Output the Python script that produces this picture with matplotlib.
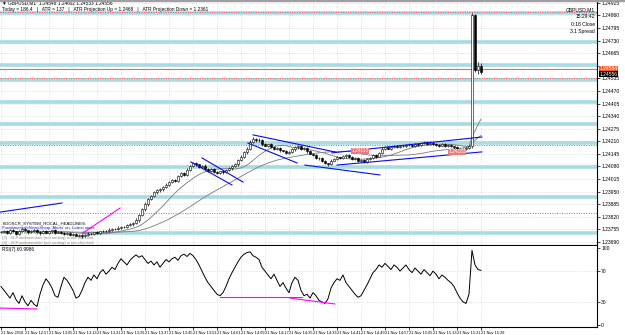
import numpy as np
import pandas as pd
import matplotlib
matplotlib.use("Agg")
import matplotlib.pyplot as plt

plt.rcParams['font.family'] = ['Liberation Sans', 'DejaVu Sans']

# GBPUSD M1 closes, one per minute from 12:49 to 15:29
closes = [
    1.23741, 1.23748, 1.23736, 1.23752, 1.23744, 1.23731, 1.23746, 1.23758, 1.23749, 1.23739,
    1.23745, 1.23753, 1.23741, 1.23734, 1.23747, 1.23738, 1.23744, 1.23750, 1.23737, 1.23742,
    1.23735, 1.23730, 1.23738, 1.23726, 1.23731, 1.23722, 1.23728, 1.23719, 1.23727, 1.23733,
    1.23730, 1.23739, 1.23736, 1.23744, 1.23748, 1.23745, 1.23753, 1.23758, 1.23755, 1.23764,
    1.23769, 1.23766, 1.23777, 1.23781, 1.23790, 1.23803, 1.23829, 1.23858, 1.23886, 1.23912,
    1.23925, 1.23946, 1.23958, 1.23961, 1.23972, 1.23985, 1.23999, 1.24010, 1.24006, 1.24030,
    1.24044, 1.24036, 1.24062, 1.24081, 1.24096, 1.24090, 1.24078, 1.24084, 1.24069, 1.24058,
    1.24066, 1.24052, 1.24047, 1.24055, 1.24049, 1.24062, 1.24070, 1.24081, 1.24090, 1.24113,
    1.24130, 1.24152, 1.24170, 1.24207, 1.24222, 1.24214, 1.24218, 1.24196, 1.24188, 1.24194,
    1.24179, 1.24172, 1.24176, 1.24163, 1.24158, 1.24150, 1.24155, 1.24168, 1.24179, 1.24185,
    1.24170, 1.24174, 1.24158, 1.24146, 1.24138, 1.24121, 1.24125, 1.24108, 1.24096, 1.24090,
    1.24110, 1.24118, 1.24127, 1.24121, 1.24132, 1.24140, 1.24128, 1.24119, 1.24124, 1.24108,
    1.24113, 1.24105, 1.24118, 1.24126, 1.24137, 1.24131, 1.24148, 1.24170, 1.24178, 1.24172,
    1.24181, 1.24186, 1.24179, 1.24188, 1.24184, 1.24193, 1.24190, 1.24186, 1.24196, 1.24192,
    1.24199, 1.24205, 1.24197, 1.24203, 1.24195, 1.24191, 1.24188, 1.24194, 1.24186, 1.24190,
    1.24183, 1.24178, 1.24171, 1.24165, 1.24170, 1.24176, 1.24184, 1.24863, 1.24579, 1.24600,
    1.24570,
]
# wick sizes in points (1e-5)
wick_up = [
    4, 6, 3, 5, 7, 4, 5, 3, 6, 4,  5, 3, 6, 4, 5, 7, 3, 4, 6, 5,
    4, 6, 3, 5, 4, 6, 3, 5, 4, 6,  5, 4, 6, 3, 5, 4, 7, 3, 5, 6,
    4, 5, 3, 6, 5, 8, 6, 7, 9, 6,  5, 7, 4, 6, 5, 8, 6, 4, 7, 5,
    6, 5, 8, 7, 9, 6, 5, 4, 6, 5,  4, 6, 5, 3, 5, 4, 6, 5, 7, 6,
    8, 7, 9, 10, 8, 6, 7, 5, 6, 4, 5, 6, 4, 5, 3, 6, 5, 7, 6, 4,
    5, 6, 4, 5, 3, 6, 4, 5, 3, 4,  6, 5, 7, 4, 6, 5, 4, 6, 3, 5,
    4, 5, 6, 4, 7, 5, 6, 8, 5, 6,  4, 5, 6, 4, 5, 3, 6, 4, 5, 4,
    6, 5, 4, 6, 3, 5, 4, 6, 5, 4,  5, 4, 6, 3, 5, 4, 6, 10, 5, 20,
    15,
]
wick_dn = [
    5, 3, 6, 4, 3, 6, 4, 5, 3, 6,  4, 5, 3, 6, 4, 3, 5, 6, 4, 3,
    5, 4, 6, 3, 5, 4, 6, 9, 5, 4,  3, 6, 4, 5, 3, 4, 6, 5, 4, 3,
    5, 4, 6, 5, 7, 6, 8, 7, 6, 8,  7, 5, 6, 8, 6, 5, 7, 6, 5, 8,
    5, 7, 6, 5, 6, 8, 7, 6, 5, 7,  6, 5, 7, 4, 6, 5, 4, 6, 5, 7,
    6, 5, 7, 6, 8, 7, 6, 8, 5, 6,  4, 5, 6, 7, 5, 6, 4, 5, 6, 7,
    6, 5, 7, 4, 6, 5, 7, 6, 5, 8,  5, 4, 6, 5, 4, 6, 5, 4, 6, 5,
    4, 6, 5, 4, 6, 5, 4, 6, 5, 4,  5, 4, 6, 3, 5, 4, 6, 5, 4, 5,
    4, 5, 6, 4, 5, 3, 6, 5, 4, 5,  4, 6, 5, 4, 6, 5, 4, 9, 11, 21,
    10,
]
rsi_vals = [
    50, 45, 40, 35, 42, 33, 28, 38, 30, 25, 32, 27, 24,
    40, 52, 60, 55, 48, 38, 36, 50, 62, 58, 52, 45, 35, 37,
    45, 55, 62, 58, 65, 60, 68, 72, 66, 70, 75, 72,
    80, 86, 82, 78, 84, 88, 91, 88, 90, 85, 80, 83, 78, 82,
    75, 80, 85, 82, 86, 88, 84, 90, 92, 89, 93, 90, 85, 78,
    70, 62, 55, 50, 45, 40, 38, 42, 50, 60, 68, 75,
    82, 88, 92, 94, 95, 90, 88, 85, 75, 70, 65, 60, 66, 58, 50, 55, 48, 42,
    55, 62, 58, 45, 38, 40, 35, 42, 38, 32, 30, 28, 34,
    48, 55, 60, 58, 65, 55, 50, 45, 40, 36, 38, 45,
    52, 60, 68, 72, 78, 75, 80, 76, 72, 78, 75, 70, 74, 78, 72, 68, 74, 70, 66,
    72, 68, 64, 70, 66, 60, 65, 62, 58, 55, 50, 42, 35, 30, 28, 40,
    97, 78, 72, 71,
]

price_ticks = [1.24925, 1.24860, 1.24795, 1.24730, 1.24665, 1.24600, 1.24535, 1.24470,
               1.24405, 1.24340, 1.24275, 1.24210, 1.24145, 1.24080, 1.24015, 1.23950,
               1.23885, 1.23820, 1.23755, 1.23690]
time_labels = ["21 Nov 2018", "21 Nov 12:57", "21 Nov 13:05", "21 Nov 13:13", "21 Nov 13:21",
               "21 Nov 13:29", "21 Nov 13:37", "21 Nov 13:45", "21 Nov 13:53", "21 Nov 14:01",
               "21 Nov 14:09", "21 Nov 14:17", "21 Nov 14:25", "21 Nov 14:33", "21 Nov 14:41",
               "21 Nov 14:49", "21 Nov 14:57", "21 Nov 15:05", "21 Nov 15:13", "21 Nov 15:21",
               "21 Nov 15:29"]
time_ticks = [0, 8, 16, 24, 32, 40, 48, 56, 64, 72, 80, 88, 96, 104, 112, 120, 128, 136, 144, 152, 160]

# horizontal levels
band_levels = [1.24873, 1.24723, 1.24604, 1.24527, 1.24413, 1.24299, 1.24201, 1.24077, 1.23922]
band_low = 1.23736          # this one starts at bar 27
red_dotted = [1.24878, 1.24537, 1.24191, 1.23840]
bid_price = 1.24584
ask_price = 1.24556

# trend lines (bar index, price)
blue_lines = [(-0.3, 1.23844, 20.3, 1.23891), (63.3, 1.24103, 77, 1.23984),
              (67, 1.24124, 80.7, 1.23999), (84, 1.24243, 111.3, 1.24155),
              (82.3, 1.24201, 98.7, 1.24098), (101.3, 1.24087, 126.3, 1.24036),
              (110.3, 1.24150, 160.3, 1.24232), (112, 1.24087, 160.3, 1.24155)]
magenta_lines = [(27.3, 1.23736, 39.7, 1.23865)]
rsi_magenta = [(-0.3, 22, 12, 20.8), (73, 36.4, 100.3, 36.4), (96.3, 35, 111.3, 27.3)]

df = pd.DataFrame({"close": closes})
df["open"] = [closes[0]] + closes[:-1]
df["high"] = df[["open", "close"]].max(axis=1) + np.array(wick_up) * 1e-5
df["low"] = df[["open", "close"]].min(axis=1) - np.array(wick_dn) * 1e-5
df["ma_fast"] = df["close"].rolling(13, min_periods=1).mean()
df["ma_slow"] = df["close"].rolling(34, min_periods=1).mean()
idx = np.arange(len(df))

W, H = 625, 335
fig = plt.figure(figsize=(W / 100, H / 100), dpi=100)
ax = fig.add_axes([0, 90 / H, 597 / W, 245 / H])
ax2 = fig.add_axes([0, 8 / H, 597 / W, 81 / H], sharex=ax)

xmin, xmax = -0.33, 198.67
ax.set_xlim(xmin, xmax)
ax.set_ylim(1.23674, 1.24940)

grid_c = "#c8c8c8"
for t in time_ticks:
    ax.axvline(t, color=grid_c, lw=0.5, ls=(0, (1, 2)), zorder=0)
    ax2.axvline(t, color=grid_c, lw=0.5, ls=(0, (1, 2)), zorder=0)
for p in price_ticks:
    ax.axhline(p, color=grid_c, lw=0.5, ls=(0, (1, 2)), zorder=0)

band_c = "#a9dbe3"
for b in band_levels:
    ax.axhline(b, color=band_c, lw=2.6, zorder=1)
ax.hlines(band_low, 27, xmax, color=band_c, lw=2.6, zorder=1)
for r in red_dotted:
    ax.axhline(r, color="#ff5050", lw=0.7, ls=(0, (1, 1.5)), zorder=2)
ax.axhline(bid_price, color="#ff6a30", lw=0.8, zorder=2)

# moving averages
ax.plot(idx, df["ma_slow"], color="#7a7a7a", lw=0.6, zorder=3)
ax.plot(idx, df["ma_fast"], color="#7a7a7a", lw=0.6, zorder=3)

# candles
ax.vlines(idx, df["low"], df["high"], color="black", lw=0.5, zorder=4)
up = df["close"] >= df["open"]
body_h = (df["close"] - df["open"]).abs().clip(lower=0.000015)
body_b = df[["open", "close"]].min(axis=1)
ax.bar(idx[up], body_h[up], bottom=body_b[up], width=0.65, color="white",
       edgecolor="black", lw=0.4, zorder=5)
ax.bar(idx[~up], body_h[~up], bottom=body_b[~up], width=0.65, color="black",
       edgecolor="black", lw=0.4, zorder=5)

for x0, y0, x1, y1 in blue_lines:
    ax.plot([x0, x1], [y0, y1], color="#0a0aee", lw=0.8, zorder=6)
for x0, y0, x1, y1 in magenta_lines:
    ax.plot([x0, x1], [y0, y1], color="#ff00ff", lw=0.8, zorder=6)

# small red labels on chart
for xi, pr, txt in [(119.7, 1.24160, "1.24113"), (152, 1.24155, "1.24183")]:
    ax.text(xi, pr, txt, fontsize=3.4, color="white", ha="center", va="center", zorder=7,
            bbox=dict(boxstyle="square,pad=0.15", fc="#f07878", ec="none"))

# scale labels hidden under the bid/ask boxes are left blank
ax.yaxis.tick_right()
ax.set_yticks(price_ticks)
ax.set_yticklabels(["" if min(abs(p - ask_price), abs(p - bid_price)) < 0.0002 else "%.5f" % p
                    for p in price_ticks], fontsize=3.6)
ax.tick_params(axis="y", length=2, width=0.5, pad=1)
ax.tick_params(axis="x", bottom=False, labelbottom=False)
for s in ["left", "top"]:
    ax.spines[s].set_visible(False)
ax.spines["right"].set_linewidth(0.8)
ax.spines["bottom"].set_linewidth(0.8)

# price boxes on the right scale
for pr, fc in [(bid_price, "#ff5a1e"), (ask_price, "black")]:
    ax.text(1.004, pr, "%.5f" % pr, transform=ax.get_yaxis_transform(), fontsize=3.6,
            color="white", va="center", ha="left", clip_on=False,
            bbox=dict(boxstyle="square,pad=0.1", fc=fc, ec="none"))

# header texts
ax.text(0.004, 0.988, "\u25bc GBPUSD,M1  1.24548 1.24602 1.24533 1.24556", transform=ax.transAxes,
        fontsize=3.4, va="center", ha="left")
ax.text(0.004, 0.963, "Today = 186.4   |   ATR = 137   |   ATR Projection Up = 1.2468   |   "
        "ATR Projection Down = 1.2361", transform=ax.transAxes, fontsize=3.4, va="center", ha="left")
for k, line in enumerate(["GBPUSD,M1", "15:29:42", "0:18 Close", "3.1 Spread"]):
    ax.text(0.997, 0.96 - k * 0.029, line, transform=ax.transAxes, fontsize=3.6,
            va="center", ha="right")

# indicator text block
txt_lines = [("BOOSCR_SYSTEM_ROCAL_HEADLINES:", "black"),
             ("FundamentalsNewsSharp 'Alerts' on, Latest news", "#1a1ad0"),
             ("8 mins until next high impact news", "#229922"),
             ("(3) : #CFundamentals (not setting) is not checked", "#888888"),
             ("(4) : #CFundamentals (not setting) is not checked", "#888888")]
for k, (s, c) in enumerate(txt_lines):
    ax.text(0.004, 0.09 - k * 0.02, s, transform=ax.transAxes, fontsize=3.1,
            color=c, va="center", ha="left")

# RSI pane
ax2.set_ylim(-2.6, 102.6)
for lv in [70, 30]:
    ax2.axhline(lv, color=grid_c, lw=0.5, ls=(0, (1, 2)), zorder=0)
ax2.plot(idx, rsi_vals, color="black", lw=0.7, zorder=3)
for x0, y0, x1, y1 in rsi_magenta:
    ax2.plot([x0, x1], [y0, y1], color="#ff00ff", lw=0.8, zorder=4)
ax2.text(0.004, 0.955, "RSI(7) 60.9986", transform=ax2.transAxes, fontsize=3.4,
         va="center", ha="left")
ax2.yaxis.tick_right()
ax2.set_yticks([100, 70, 30, 0])
ax2.set_yticklabels(["100", "70", "30", "0"], fontsize=3.6)
ax2.tick_params(axis="y", length=2, width=0.5, pad=1)
ax2.set_xticks(time_ticks)
ax2.set_xticklabels(time_labels, fontsize=2.8, ha="left")
ax2.tick_params(axis="x", length=2, width=0.5, pad=1)
for s in ["left", "top"]:
    ax2.spines[s].set_visible(False)
ax2.spines["right"].set_linewidth(0.8)
ax2.spines["bottom"].set_linewidth(0.8)

fig.patches.append(plt.Rectangle((0, 0.997), 1, 0.003, transform=fig.transFigure,
                                 color="#a0a0a0"))

fig.savefig("out.png", dpi=100)
